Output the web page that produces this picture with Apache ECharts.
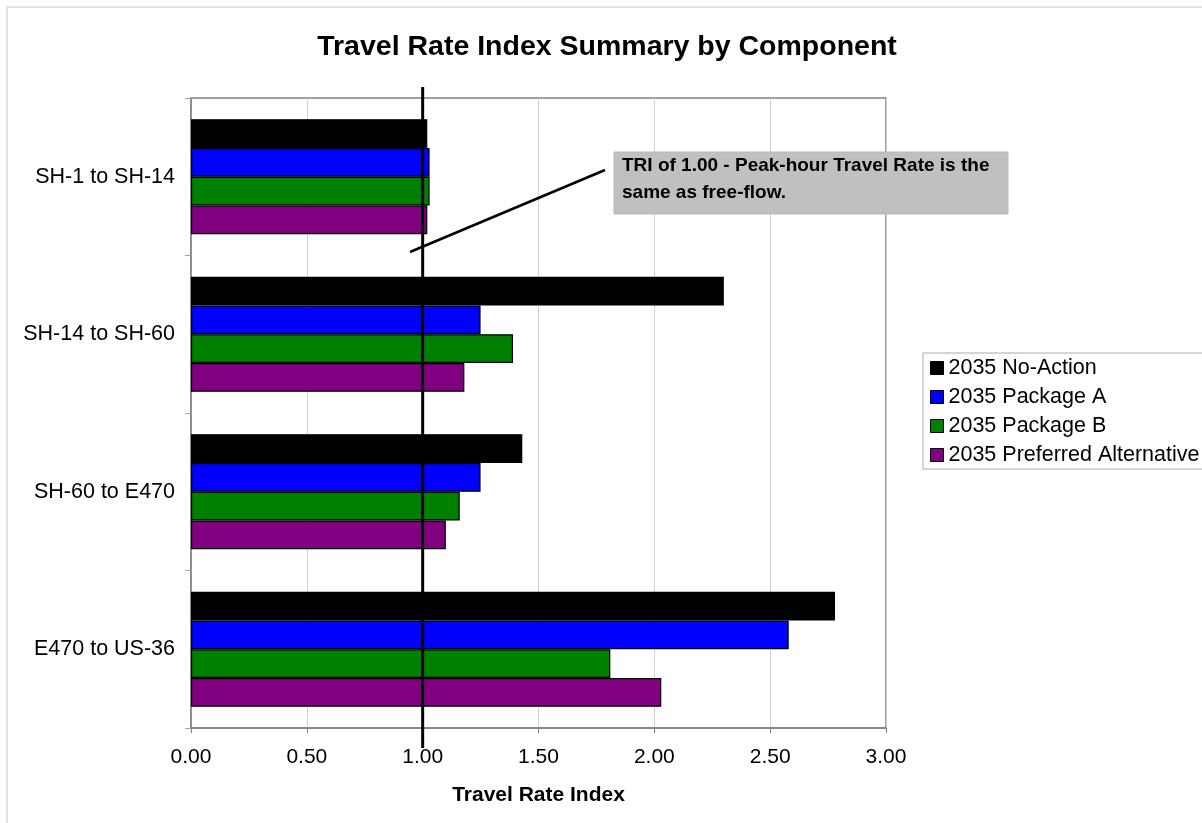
<!DOCTYPE html>
<html>
<head>
<meta charset="utf-8">
<script src="https://cdn.jsdelivr.net/npm/echarts@6/dist/echarts.min.js"></script>
<style>
  html, body { margin: 0; padding: 0; background: #fff; }
  #chart { width: 1202px; height: 823px; }
</style>
</head>
<body>
<div id="chart"></div>
<script>
// Corridor components, top to bottom
const categories = ['SH-1 to SH-14', 'SH-14 to SH-60', 'SH-60 to E470', 'E470 to US-36'];

// Travel Rate Index per scenario
const noAction   = [1.02, 2.30, 1.43, 2.78];
const packageA   = [1.03, 1.25, 1.25, 2.58];
const packageB   = [1.03, 1.39, 1.16, 1.81];
const preferred  = [1.02, 1.18, 1.10, 2.03];

const seriesNames = ['2035 No-Action', '2035 Package A', '2035 Package B', '2035 Preferred Alternative'];
const seriesColors = ['#000000', '#0000ff', '#008000', '#800080'];
const seriesData = [noAction, packageA, packageB, preferred];

// Free-flow reference value
const freeFlowTRI = 1.00;
const noteLines = ['TRI of 1.00 - Peak-hour Travel Rate is the', 'same as free-flow.'];

const FONT = '"Liberation Sans", Arial, sans-serif';

const chart = echarts.init(document.getElementById('chart'), null, { renderer: 'canvas' });

const option = {
  backgroundColor: '#ffffff',
  animation: false,
  title: {
    text: 'Travel Rate Index Summary by Component',
    left: 602, top: 28, textAlign: 'center',
    textStyle: { fontFamily: FONT, fontSize: 28.5, fontWeight: 'bold', color: '#000' }
  },
  legend: {
    orient: 'vertical',
    left: 923, top: 353,
    padding: [4, 20, 3, 7],
    borderColor: '#c8c8c8', borderWidth: 1.5,
    itemWidth: 13, itemHeight: 13, itemGap: 7,
    icon: 'rect',
    textStyle: { fontFamily: FONT, fontSize: 21.5, color: '#000', padding: [0, 0, 0, 0] },
    data: seriesNames.map((n, i) => ({ name: n, itemStyle: { color: seriesColors[i], borderColor: '#000', borderWidth: 1 } }))
  },
  grid: { left: 191, right: 316, top: 98, bottom: 95, show: true, borderColor: '#808080', borderWidth: 1.5, backgroundColor: '#fff' },
  xAxis: {
    type: 'value', min: 0, max: 3, interval: 0.5,
    name: 'Travel Rate Index', nameLocation: 'middle', nameGap: 57,
    nameTextStyle: { fontFamily: FONT, fontSize: 21, fontWeight: 'bold', color: '#000' },
    axisLine: { show: true, lineStyle: { color: '#808080', width: 1.5 } },
    axisTick: { show: true, length: 5, lineStyle: { color: '#808080' } },
    axisLabel: { fontFamily: FONT, fontSize: 21, color: '#000', margin: 19, formatter: v => v.toFixed(2) },
    splitLine: { show: true, lineStyle: { color: '#d0d0d0', width: 1 } }
  },
  yAxis: {
    type: 'category', data: categories, inverse: true,
    axisLine: { show: true, lineStyle: { color: '#808080', width: 1.5 } },
    axisTick: { show: true, length: 6, lineStyle: { color: '#a0a0a0' } },
    axisLabel: { fontFamily: FONT, fontSize: 21.5, color: '#000', margin: 16 },
    splitLine: { show: false }
  },
  series: seriesNames.map((n, i) => ({
    name: n, type: 'bar',
    data: seriesData[i],
    barGap: '0%', barCategoryGap: '27%',
    itemStyle: { color: seriesColors[i], borderColor: '#000', borderWidth: 1.2 }
  }))
};

chart.setOption(option);

// Reference line at TRI = 1.00, extending a little past the plot frame,
// plus the callout box and its leader line.
const xRef = chart.convertToPixel({ xAxisIndex: 0 }, freeFlowTRI);
chart.setOption({
  graphic: [
    { type: 'rect', shape: { x: 7, y: 7, width: 1220, height: 840 }, style: { fill: 'none', stroke: '#d9d9d9', lineWidth: 1.5 }, z: 0, silent: true },
    { type: 'line', shape: { x1: xRef, y1: 87, x2: xRef, y2: 748 }, style: { stroke: '#000', lineWidth: 3 }, z: 100 },
    { type: 'line', shape: { x1: 410, y1: 252, x2: 605, y2: 170 }, style: { stroke: '#000', lineWidth: 2.5 }, z: 100 },
    { type: 'rect', shape: { x: 614, y: 152, width: 394, height: 62 }, style: { fill: '#c0c0c0', stroke: '#b8b8b8', lineWidth: 1 }, z: 100 },
    { type: 'text', x: 622, y: 152, z: 101,
      style: { text: noteLines.join('\n'), fontFamily: FONT, fontSize: 19, fontWeight: 'bold', fill: '#000', lineHeight: 27 } }
  ]
});
</script>
</body>
</html>
